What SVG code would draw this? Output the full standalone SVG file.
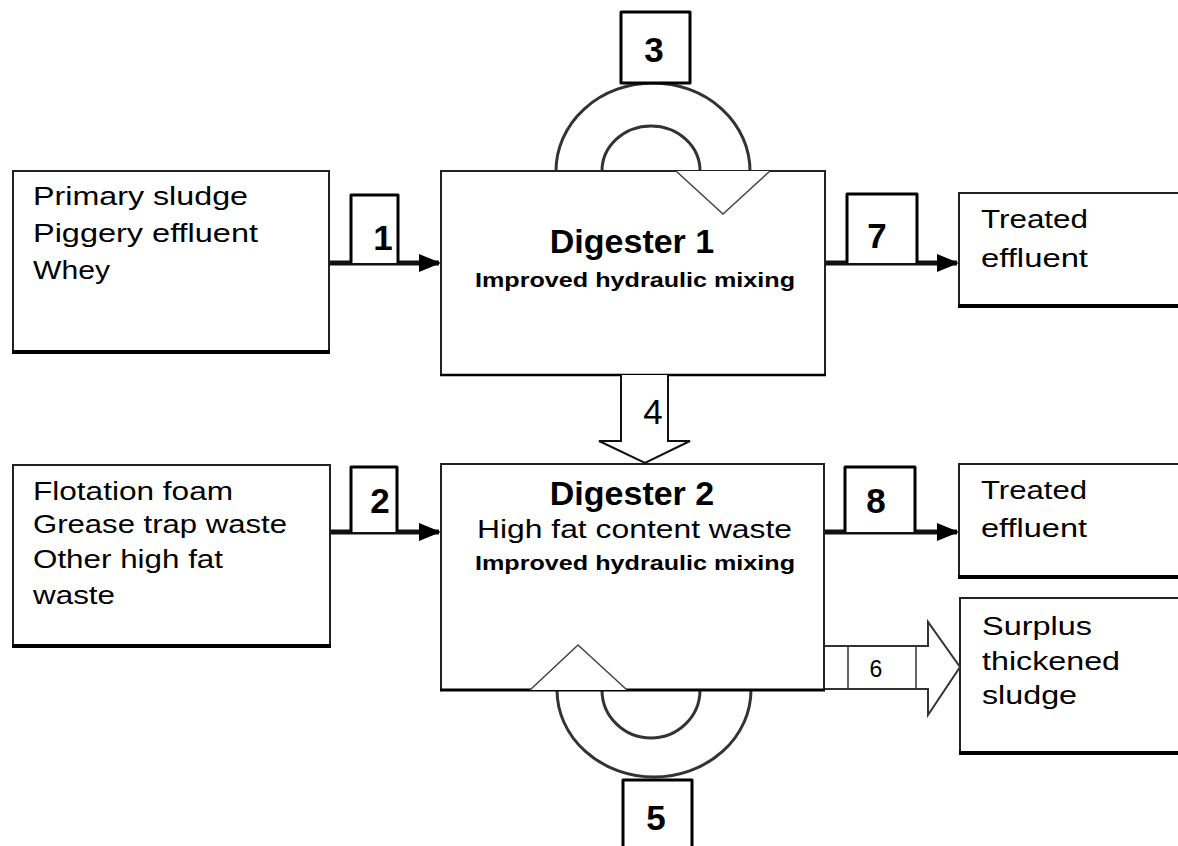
<svg xmlns="http://www.w3.org/2000/svg" width="1178" height="846" viewBox="0 0 1178 846">
<style>
.box{fill:#fff;stroke:#222;stroke-width:2}
.base{stroke:#000;stroke-width:4}
.lbl{fill:#fff;stroke:#000;stroke-width:3;stroke-linejoin:round}
.num{font-family:"Liberation Sans",Arial,sans-serif;font-weight:bold;font-size:35px;fill:#000;text-anchor:middle}
.t{font-family:"Liberation Sans",Arial,sans-serif;font-size:26px;fill:#000}
.title{font-family:"Liberation Sans",Arial,sans-serif;font-weight:bold;font-size:34px;fill:#000;text-anchor:middle}
.sub{font-family:"Liberation Sans",Arial,sans-serif;font-weight:bold;font-size:21px;fill:#000}
.flow{stroke:#111;stroke-width:5;fill:none}
.arc{stroke:#333;stroke-width:3;fill:none}
.thin{stroke:#444;stroke-width:1.5;fill:#fff}
</style>
<defs>
<marker id="ah" markerWidth="4.4" markerHeight="3.6" refX="4" refY="1.8" orient="auto" markerUnits="strokeWidth">
<path d="M0,0 L4.4,1.8 L0,3.6 z" fill="#000"/>
</marker>
</defs>
<rect width="1178" height="846" fill="#fff"/>

<g id="connectors">
<line class="flow" x1="330" y1="263" x2="439" y2="263" marker-end="url(#ah)"/>
<line class="flow" x1="330" y1="532" x2="439" y2="532" marker-end="url(#ah)"/>
<line class="flow" x1="825" y1="263" x2="957" y2="263" marker-end="url(#ah)"/>
<line class="flow" x1="825" y1="532" x2="957" y2="532" marker-end="url(#ah)"/>
<path class="arc" d="M556,171 A97,88 0 0 1 750,171"/>
<path class="arc" d="M602,171 A49,45 0 0 1 700,171"/>
<path class="arc" d="M557,690 A97,87 0 0 0 751,690"/>
<path class="arc" d="M602,690 A49,48 0 0 0 700,690"/>
</g>

<g id="source1">
<rect class="box" x="13" y="171" width="316" height="181"/>
<line class="base" x1="12" y1="352" x2="330" y2="352"/>
<text class="t" x="33" y="205" textLength="215" lengthAdjust="spacingAndGlyphs">Primary sludge</text>
<text class="t" x="33" y="242" textLength="225" lengthAdjust="spacingAndGlyphs">Piggery effluent</text>
<text class="t" x="33" y="279" textLength="77" lengthAdjust="spacingAndGlyphs">Whey</text>
</g>

<g id="source2">
<rect class="box" x="13" y="465" width="317" height="181"/>
<line class="base" x1="12" y1="646" x2="331" y2="646"/>
<text class="t" x="33" y="500" textLength="200" lengthAdjust="spacingAndGlyphs">Flotation foam</text>
<text class="t" x="33" y="533" textLength="254" lengthAdjust="spacingAndGlyphs">Grease trap waste</text>
<text class="t" x="33" y="568" textLength="190" lengthAdjust="spacingAndGlyphs">Other high fat</text>
<text class="t" x="33" y="604" textLength="82" lengthAdjust="spacingAndGlyphs">waste</text>
</g>

<g id="digester1">
<rect class="box" x="441" y="171" width="384" height="204"/>
<line class="base" x1="440" y1="375" x2="826" y2="375" style="stroke-width:2.5"/>
<polyline class="thin" points="676,171 723,214 770,171" fill="none"/>
<text class="title" x="632" y="253">Digester 1</text>
<text class="sub" x="475" y="287" textLength="320" lengthAdjust="spacingAndGlyphs">Improved hydraulic mixing</text>
</g>

<g id="digester2">
<rect class="box" x="441" y="464" width="383" height="226"/>
<line class="base" x1="440" y1="690" x2="825" y2="690" style="stroke-width:3"/>
<polyline class="thin" points="530,690 578,645 627,690" fill="none"/>
<text class="title" x="632" y="505">Digester 2</text>
<text class="t" x="477" y="538" textLength="315" lengthAdjust="spacingAndGlyphs">High fat content waste</text>
<text class="sub" x="475" y="570" textLength="320" lengthAdjust="spacingAndGlyphs">Improved hydraulic mixing</text>
</g>

<g id="out1">
<rect class="box" x="959" y="193" width="230" height="113"/>
<line class="base" x1="958" y1="306" x2="1190" y2="306"/>
<text class="t" x="981" y="228" textLength="107" lengthAdjust="spacingAndGlyphs">Treated</text>
<text class="t" x="981" y="267" textLength="107" lengthAdjust="spacingAndGlyphs">effluent</text>
</g>

<g id="out2">
<rect class="box" x="959" y="464" width="230" height="113"/>
<line class="base" x1="958" y1="577" x2="1190" y2="577"/>
<text class="t" x="981" y="499" textLength="106" lengthAdjust="spacingAndGlyphs">Treated</text>
<text class="t" x="981" y="537" textLength="106" lengthAdjust="spacingAndGlyphs">effluent</text>
</g>

<g id="out3">
<rect class="box" x="960" y="598" width="230" height="155"/>
<line class="base" x1="959" y1="753" x2="1190" y2="753"/>
<text class="t" x="982" y="635" textLength="110" lengthAdjust="spacingAndGlyphs">Surplus</text>
<text class="t" x="982" y="670" textLength="138" lengthAdjust="spacingAndGlyphs">thickened</text>
<text class="t" x="982" y="704" textLength="95" lengthAdjust="spacingAndGlyphs">sludge</text>
</g>

<g id="label1">
<path class="lbl" d="M351,263 V195 H398 V263"/>
<text class="num" x="383" y="250">1</text>
</g>
<g id="label2">
<path class="lbl" d="M351,532 V467 H397 V532"/>
<text class="num" x="380" y="513">2</text>
</g>
<g id="label7">
<path class="lbl" d="M847,263 V194 H917 V263"/>
<text class="num" x="877" y="248">7</text>
</g>
<g id="label8">
<path class="lbl" d="M845,532 V467 H915 V532"/>
<text class="num" x="876" y="513">8</text>
</g>
<g id="label3">
<rect class="lbl" x="621" y="12" width="69" height="71"/>
<text class="num" x="654" y="62">3</text>
</g>
<g id="label5">
<path class="lbl" d="M623,850 V780 H692 V850"/>
<text class="num" x="656" y="830">5</text>
</g>

<g id="flow4">
<path fill="#fff" stroke="#111" stroke-width="2" d="M621,375 V441 H599 L645,463 L690,441 H668 V375"/>
<text x="653" y="424" font-family="'Liberation Sans',Arial,sans-serif" font-size="35" text-anchor="middle" fill="#000">4</text>
</g>

<g id="flow6">
<path fill="#fff" stroke="#333" stroke-width="2" d="M825,646 H928 V622 L960,667 L928,715 V689 H825"/>
<line x1="848" y1="646" x2="848" y2="689" stroke="#333" stroke-width="1.5"/>
<line x1="916" y1="646" x2="916" y2="689" stroke="#333" stroke-width="1.5"/>
<text x="876" y="677" font-family="'Liberation Sans',Arial,sans-serif" font-size="23" text-anchor="middle" fill="#000">6</text>
</g>
</svg>
